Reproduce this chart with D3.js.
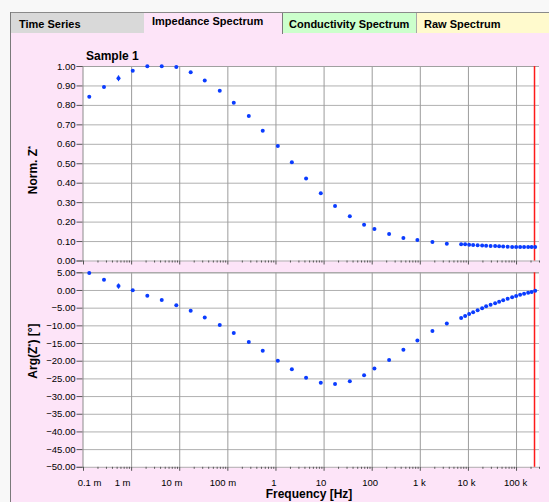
<!DOCTYPE html>
<html><head><meta charset="utf-8">
<script src="https://cdn.jsdelivr.net/npm/d3@7"></script>
<style>html,body{margin:0;padding:0;background:#f8f8f8;overflow:hidden}svg{display:block}</style>
</head><body>
<svg id="c" width="549" height="502"></svg>
<script>
// ---------- data ----------
const tabNames = ["Time Series", "Impedance Spectrum", "Conductivity Spectrum", "Raw Spectrum"];
const sampleName = "Sample 1";
const frequencies = [1.35e-4, 2.73e-4, 5.47e-4, 1.08e-3, 2.17e-3, 4.33e-3, 8.7e-3, 1.73e-2, 3.39e-2, 6.95e-2,
  0.136, 0.279, 0.544, 1.12, 2.19, 4.33, 8.75, 17.3, 35.1, 69.5, 114, 230, 456, 891, 1828, 3640,
  7230, 8750, 10600, 12830, 15900, 19740, 23900, 29600, 36750, 44500, 54000, 66900, 83000, 100400,
  121600, 147000, 178500, 211000, 249700];
const normZ = [0.842, 0.892, 0.937, 0.976, 0.999, 0.999, 0.995, 0.968, 0.926, 0.873,
  0.811, 0.743, 0.667, 0.589, 0.505, 0.421, 0.346, 0.280, 0.227, 0.184, 0.162, 0.136, 0.116, 0.105, 0.095, 0.086,
  0.084, 0.083, 0.081, 0.080, 0.079, 0.077, 0.076, 0.075, 0.074, 0.073, 0.072, 0.071, 0.070, 0.070,
  0.069, 0.069, 0.069, 0.069, 0.069];
const argZ = [4.8, 2.9, 1.1, -0.1, -1.6, -2.8, -4.3, -5.9, -7.8, -9.9,
  -12.15, -14.7, -17.2, -20.0, -22.4, -24.8, -26.2, -26.6, -25.8, -24.1, -22.2, -19.8, -16.9, -14.3, -11.6, -9.5,
  -7.9, -7.35, -6.8, -6.3, -5.75, -5.2, -4.6, -4.2, -3.75, -3.3, -2.9, -2.45, -2.05, -1.7,
  -1.35, -1.05, -0.8, -0.55, -0.25];
const errorIndex = [2];
const normZErr = [0.015];
const argZErr = [0.75];
const xTickValues = [1e-4, 1e-3, 1e-2, 1e-1, 1, 10, 100, 1e3, 1e4, 1e5];
const xTickLabels = ["0.1 m", "1 m", "10 m", "100 m", "1", "10", "100", "1 k", "10 k", "100 k"];
const normTicks = [0, 0.1, 0.2, 0.3, 0.4, 0.5, 0.6, 0.7, 0.8, 0.9, 1.0];
const argTicks = [5, 0, -5, -10, -15, -20, -25, -30, -35, -40, -45, -50];
const markerFrequency = 2.42e5;
const xTitle = "Frequency [Hz]";

// ---------- layout ----------
const W = 549, H = 502;
const L = 83, R = 539;
const top1 = 66, bot1 = 260.5, top2 = 272.3, bot2 = 466.8;
const labelShift = [6, -9, -8, -5, -2, -3, -2, -1, -2, -1];
const FONT = "'Liberation Sans', Arial, sans-serif";
const PINK = "#fde4f8", BLUE = "#0a3cff";

const svg = d3.select("#c").attr("font-family", FONT);

// frame + tabs
svg.append("rect").attr("x", 0).attr("y", 0).attr("width", W).attr("height", H).attr("fill", "#f8f8f8");
svg.append("rect").attr("x", 10).attr("y", 12).attr("width", W - 10).attr("height", H - 12).attr("fill", PINK);
const tabs = [
  {x0: 11, x1: 144, fill: "#d9d9d9", ty: 27.5, tx: 19},
  {x0: 144, x1: 282, fill: PINK, ty: 24.5, tx: 152},
  {x0: 283, x1: 416, fill: "#ccffcc", ty: 27.5, tx: 289},
  {x0: 417, x1: 549, fill: "#fffacd", ty: 27.5, tx: 424}
];
tabs.forEach((t, i) => {
  svg.append("rect").attr("x", t.x0).attr("y", 13).attr("width", t.x1 - t.x0).attr("height", 20).attr("fill", t.fill);
  svg.append("text").attr("x", t.tx).attr("y", t.ty).attr("font-size", 11).attr("font-weight", "bold")
    .attr("fill", "#000").text(tabNames[i]);
});
svg.append("line").attr("x1", 282.5).attr("x2", 282.5).attr("y1", 12).attr("y2", 34).attr("stroke", "#7a7a7a");
svg.append("line").attr("x1", 416.5).attr("x2", 416.5).attr("y1", 12).attr("y2", 33).attr("stroke", "#a8a8a8");
svg.append("line").attr("x1", 10).attr("x2", W).attr("y1", 12.5).attr("y2", 12.5).attr("stroke", "#8a8a8a");
svg.append("line").attr("x1", 10.5).attr("x2", 10.5).attr("y1", 12).attr("y2", H).attr("stroke", "#7a7a7a");

svg.append("text").attr("x", 86).attr("y", 60).attr("font-size", 12).attr("font-weight", "bold").text(sampleName);

// ---------- scales ----------
const x = d3.scaleLog().domain([1e-4, 3e5]).range([L, R]);
const yN = d3.scaleLinear().domain([0, 1]).range([bot1, top1]);
const yA = d3.scaleLinear().domain([-50, 5]).range([bot2, top2]);

const minorTicks = [];
xTickValues.forEach(d => { for (let k = 2; k <= 9; k++) { const v = d * k; if (v <= 3e5) minorTicks.push(v); } });

function panel(y, ticks, values, errs, y0, y1, withLabels) {
  const g = svg.append("g");
  g.append("rect").attr("x", L).attr("y", y1).attr("width", R - L).attr("height", y0 - y1).attr("fill", "#fff");
  // horizontal grid
  g.append("g").attr("transform", `translate(${L},0)`)
    .call(d3.axisLeft(y).tickValues(ticks).tickSize(-(R - L)).tickFormat(""))
    .call(s => { s.select(".domain").remove(); s.selectAll("line").attr("stroke", "#b0b0b0"); });
  // vertical grid
  g.append("g").attr("transform", `translate(0,${y1})`)
    .call(d3.axisBottom(x).tickValues(xTickValues.slice(1)).tickSize(y0 - y1).tickFormat(""))
    .call(s => { s.select(".domain").remove(); s.selectAll("line").attr("stroke", "#9c9c9c"); });
  // top border
  g.append("line").attr("x1", L).attr("x2", R).attr("y1", y1 + 0.5).attr("y2", y1 + 0.5).attr("stroke", "#a0a0a0");
  // y axis
  g.append("g").attr("transform", `translate(${L - 0.5},0)`)
    .call(d3.axisLeft(y).tickValues(ticks).tickSize(6).tickPadding(1).tickFormat(d3.format(".2f")))
    .call(s => {
      s.select(".domain").attr("stroke", "#8c8c8c");
      s.selectAll("line").attr("stroke", "#555");
      s.selectAll("text").attr("font-size", 9.5).attr("font-family", FONT).attr("fill", "#000");
    });
  // x axis ticks
  const xa = g.append("g").attr("transform", `translate(0,${y0})`);
  xa.call(d3.axisBottom(x).tickValues(xTickValues).tickSize(4).tickPadding(8)
      .tickFormat((d, i) => withLabels ? xTickLabels[i] : ""))
    .call(s => {
      s.select(".domain").remove();
      s.selectAll("line").attr("stroke", "#555");
      s.selectAll("text").attr("font-size", 9.5).attr("font-family", FONT).attr("fill", "#000")
        .attr("dx", (d, i) => labelShift[i]);
    });
  g.append("g").attr("transform", `translate(0,${y0})`)
    .call(d3.axisBottom(x).tickValues(minorTicks).tickSize(2).tickFormat(""))
    .call(s => { s.select(".domain").remove(); s.selectAll("line").attr("stroke", "#555"); });
  // marker
  g.append("line").attr("x1", x(markerFrequency)).attr("x2", x(markerFrequency))
    .attr("y1", y1).attr("y2", y0).attr("stroke", "#ff1a1a").attr("stroke-width", 1.5);
  // error bars
  errorIndex.forEach((idx, k) => {
    g.append("line").attr("x1", x(frequencies[idx])).attr("x2", x(frequencies[idx]))
      .attr("y1", y(values[idx] - errs[k])).attr("y2", y(values[idx] + errs[k]))
      .attr("stroke", BLUE).attr("stroke-width", 1.2);
  });
  // points
  g.append("g").selectAll("circle").data(values).join("circle")
    .attr("cx", (d, i) => x(frequencies[i])).attr("cy", d => y(d)).attr("r", 2).attr("fill", BLUE);
  return g;
}
panel(yN, normTicks, normZ, normZErr, bot1, top1, false);
panel(yA, argTicks, argZ, argZErr, bot2, top2, true);

// axis titles
function yTitle(cx, cy, pre, post) {
  const t = svg.append("text").attr("transform", `translate(${cx},${cy}) rotate(-90)`)
    .attr("text-anchor", "middle").attr("font-size", 12).attr("font-weight", "bold");
  t.append("tspan").text(pre);
  t.append("tspan").attr("font-size", 8).attr("dy", -4).text("*");
  if (post) t.append("tspan").attr("dy", 4).text(post);
}
yTitle(37, 170, "Norm. Z", "");
yTitle(37, 351, "Arg(Z", ") [°]");
svg.append("text").attr("x", (L + R) / 2 - 2).attr("y", 498).attr("text-anchor", "middle")
  .attr("font-size", 12).attr("font-weight", "bold").text(xTitle);
</script>
</body></html>
